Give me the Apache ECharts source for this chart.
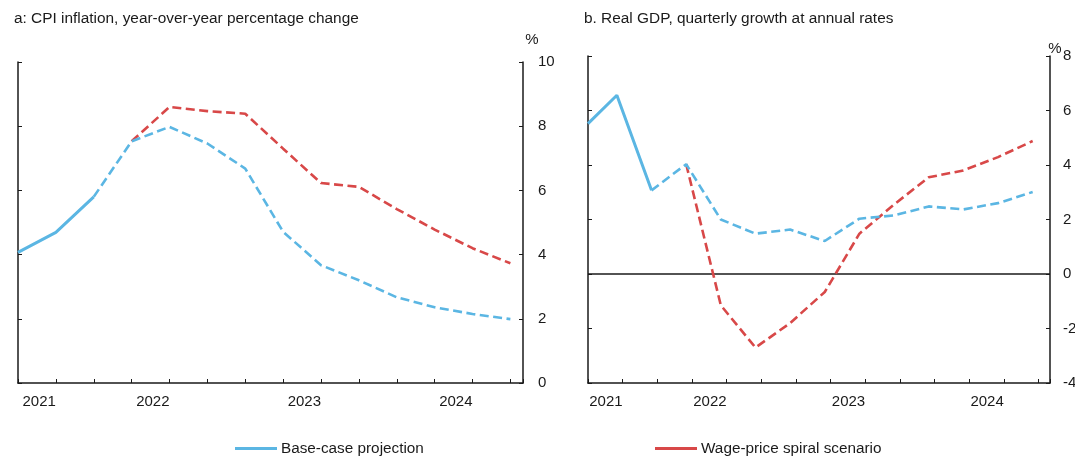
<!DOCTYPE html>
<html>
<head>
<meta charset="utf-8">
<script src="https://cdn.jsdelivr.net/npm/echarts@6/dist/echarts.min.js"></script>
<style>
html,body{margin:0;padding:0;background:#fff;}
#chart{width:1075px;height:456px;}
</style>
</head>
<body>
<div id="chart"></div>
<script>
// Quarterly observations (2021 Q3 ... 2024 Q4)
const quarters = ['2021Q3','2021Q4','2022Q1','2022Q2','2022Q3','2022Q4','2023Q1','2023Q2','2023Q3','2023Q4','2024Q1','2024Q2','2024Q3','2024Q4'];
const yearLabels = ['2021','2022','2023','2024'];

// Panel a: CPI inflation, y/y %
const cpiActual   = [4.07, 4.69, 5.80, null, null, null, null, null, null, null, null, null, null, null];
const cpiBase     = [null, null, 5.80, 7.53, 7.98, 7.46, 6.68, 4.71, 3.67, 3.20, 2.67, 2.36, 2.15, 1.99];
const cpiSpiral   = [null, null, null, 7.53, 8.60, 8.47, 8.39, 7.30, 6.23, 6.11, 5.42, 4.78, 4.20, 3.73];

// Panel b: Real GDP, q/q annualised %  (first value read at the left edge of the panel)
const gdpActual   = [5.52, 6.56, 3.07, null, null, null, null, null, null, null, null, null, null, null];
const gdpBase     = [null, null, 3.07, 4.03, 2.00, 1.48, 1.63, 1.21, 2.03, 2.15, 2.48, 2.37, 2.60, 3.01];
const gdpSpiral   = [null, null, null, 4.03, -1.15, -2.70, -1.80, -0.66, 1.48, 2.55, 3.55, 3.80, 4.29, 4.88];

const BLUE = '#5BB6E3';
const RED = '#D84848';
const INK = '#1a1a1a';
const FONT = "'Liberation Sans', Arial, sans-serif";

// month position of each quarterly observation on the time axis (months since axis start)
function posA(i){ return 3 * i; }
function posB(i){ return Math.max(0, 3 * i - 0.5); }
function pairs(vals, pos){ return vals.map((v,i) => v == null ? null : [pos(i), v]).filter(p => p); }

const yearAt = {3: yearLabels[0], 12: yearLabels[1], 24: yearLabels[2], 36: yearLabels[3]};

function xAxis(gridIndex){
  return {
    type: 'value', gridIndex, min: 0, max: 40, interval: 3,
    axisLine: {show: true, onZero: false, lineStyle: {color: INK, width: 1.5}},
    axisTick: {show: true, inside: true, length: 4, lineStyle: {color: INK, width: 1}},
    splitLine: {show: false},
    axisLabel: {
      show: true, align: 'right', margin: 11,
      fontSize: 15, color: INK, fontFamily: FONT,
      formatter: v => yearAt[v] || ''
    }
  };
}
function yAxes(gridIndex, min, max, interval, labelMargin){
  const common = {
    type: 'value', gridIndex, min, max, interval,
    axisLine: {show: true, lineStyle: {color: INK, width: 1.5}},
    axisTick: {show: true, inside: true, length: 4, lineStyle: {color: INK, width: 1}},
    splitLine: {show: false}
  };
  return [
    Object.assign({}, common, {position: 'left', axisLabel: {show: false}}),
    Object.assign({}, common, {position: 'right', axisLabel: {show: true, margin: labelMargin, fontSize: 15, color: INK, fontFamily: FONT}})
  ];
}

const dashed = {type: [9, 4.5], width: 2.6};

const option = {
  animation: false,
  textStyle: {fontFamily: FONT},
  grid: [
    {left: 18, right: 552, top: 62, bottom: 73, outerBoundsMode: 'none', containLabel: false},
    {left: 588, right: 25, top: 56, bottom: 73, outerBoundsMode: 'none', containLabel: false}
  ],
  xAxis: [xAxis(0), xAxis(1)],
  yAxis: [].concat(yAxes(0, 0, 10, 2, 15), yAxes(1, -4, 8, 2, 13)),
  legend: [
    {data: ['Base-case projection'], left: 235, top: 441, padding: 0, icon: 'rect', itemWidth: 42, itemHeight: 3, itemGap: 5,
     textStyle: {fontSize: 15.3, color: INK, fontFamily: FONT, padding: [0,0,0,-1]}, selectedMode: false},
    {data: ['Wage-price spiral scenario'], left: 655, top: 441, padding: 0, icon: 'rect', itemWidth: 42, itemHeight: 3, itemGap: 5,
     textStyle: {fontSize: 15.3, color: INK, fontFamily: FONT, padding: [0,0,0,-1]}, selectedMode: false}
  ],
  graphic: [
    {type: 'text', left: 14, top: 11, style: {text: 'a: CPI inflation, year-over-year percentage change', font: '15.4px ' + FONT, fill: INK}},
    {type: 'text', left: 584, top: 11, style: {text: 'b. Real GDP, quarterly growth at annual rates', font: '15.4px ' + FONT, fill: INK}},
    {type: 'text', x: 532, y: 40, style: {text: '%', font: '15px ' + FONT, fill: INK, align: 'center', verticalAlign: 'middle'}},
    {type: 'text', x: 1055, y: 49, style: {text: '%', font: '15px ' + FONT, fill: INK, align: 'center', verticalAlign: 'middle'}}
  ],
  series: [
    {name: 'Wage-price spiral scenario', type: 'line', xAxisIndex: 0, yAxisIndex: 1, data: pairs(cpiSpiral, posA),
     color: RED, showSymbol: false, symbol: 'none', lineStyle: Object.assign({color: RED}, dashed), z: 2},
    {name: 'Base-case projection', type: 'line', xAxisIndex: 0, yAxisIndex: 1, data: pairs(cpiBase, posA),
     color: BLUE, showSymbol: false, symbol: 'none', lineStyle: Object.assign({color: BLUE}, dashed), z: 3},
    {name: 'Base-case projection', type: 'line', xAxisIndex: 0, yAxisIndex: 1, data: pairs(cpiActual, posA),
     color: BLUE, showSymbol: false, symbol: 'none', lineStyle: {color: BLUE, width: 3}, z: 4},

    {name: 'Wage-price spiral scenario', type: 'line', xAxisIndex: 1, yAxisIndex: 3, data: pairs(gdpSpiral, posB),
     color: RED, showSymbol: false, symbol: 'none', lineStyle: Object.assign({color: RED}, dashed), z: 2},
    {name: 'Base-case projection', type: 'line', xAxisIndex: 1, yAxisIndex: 3, data: pairs(gdpBase, posB),
     color: BLUE, showSymbol: false, symbol: 'none', lineStyle: Object.assign({color: BLUE}, dashed), z: 3,
     markLine: {silent: true, symbol: 'none', label: {show: false}, lineStyle: {color: INK, width: 1.5, type: 'solid'}, data: [{yAxis: 0}], z: 1}},
    {name: 'Base-case projection', type: 'line', xAxisIndex: 1, yAxisIndex: 3, data: pairs(gdpActual, posB),
     color: BLUE, showSymbol: false, symbol: 'none', lineStyle: {color: BLUE, width: 3}, z: 4}
  ]
};

const chart = echarts.init(document.getElementById('chart'), null, {renderer: 'canvas'});
chart.setOption(option);
</script>
</body>
</html>
